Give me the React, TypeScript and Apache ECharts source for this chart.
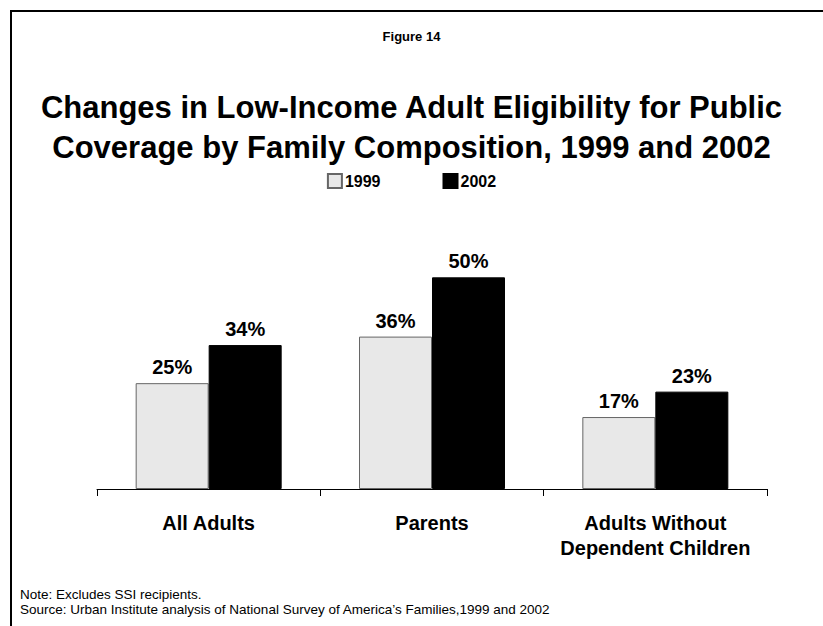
import React, { useEffect, useRef } from "react";
import * as echarts from "echarts";

const categories = ["All Adults", "Parents", "Adults Without\nDependent Children"];
const seriesNames = ["1999", "2002"];
const values1999 = [25, 36, 17];
const values2002 = [34, 50, 23];
const figureLabel = "Figure 14";
const titleText = "Changes in Low-Income Adult Eligibility for Public\nCoverage by Family Composition, 1999 and 2002";
const noteText = "Note: Excludes SSI recipients.";
const sourceText = "Source: Urban Institute analysis of National Survey of America\u2019s Families,1999 and 2002";

const FONT = "Arial, 'Liberation Sans', Helvetica, sans-serif";

export default function App() {
  const ref = useRef<HTMLDivElement>(null);
  useEffect(() => {
    document.body.style.margin = "0";
    const chart = echarts.init(ref.current!, null, { renderer: "svg" });
    const labelStyle = {
      show: true,
      position: "top" as const,
      distance: 6,
      formatter: "{c}%",
      fontFamily: FONT,
      fontWeight: "bold" as const,
      fontSize: 20,
      color: "#000",
    };
    chart.setOption({
      animation: false,
      backgroundColor: "#fff",
      textStyle: { fontFamily: FONT },
      graphic: [
        {
          type: "rect",
          shape: { x: 11, y: 11, width: 900, height: 800 },
          style: { fill: "none", stroke: "#000", lineWidth: 2 },
          silent: true,
        },
      ],
      title: [
        {
          text: figureLabel,
          left: "center",
          top: 25,
          textStyle: { fontFamily: FONT, fontWeight: "bold", fontSize: 13, color: "#000" },
        },
        {
          text: titleText,
          left: "center",
          top: 82,
          textStyle: { fontFamily: FONT, fontWeight: "bold", fontSize: 31, lineHeight: 40, color: "#000" },
        },
        {
          text: noteText + "\n" + sourceText,
          left: 15,
          top: 582,
          textStyle: { fontFamily: FONT, fontWeight: "normal", fontSize: 13.5, lineHeight: 15, color: "#000" },
        },
      ],
      legend: {
        data: seriesNames,
        top: 168,
        left: "center",
        itemWidth: 14,
        itemHeight: 14,
        itemGap: 62,
        icon: "rect",
        textStyle: { fontFamily: FONT, fontWeight: "bold", fontSize: 16, color: "#000", padding: [0, 0, 0, -2] },
      },
      grid: { left: 97, right: 56, top: 235, bottom: 137, containLabel: false },
      xAxis: {
        type: "category",
        data: categories,
        axisLine: { lineStyle: { color: "#000", width: 1 } },
        axisTick: { show: true, length: 7, lineStyle: { color: "#000" } },
        axisLabel: {
          margin: 21,
          fontFamily: FONT,
          fontWeight: "bold",
          fontSize: 20,
          lineHeight: 25,
          color: "#000",
          interval: 0,
        },
      },
      yAxis: {
        type: "value",
        min: 0,
        max: 60,
        show: false,
        splitLine: { show: false },
      },
      series: [
        {
          name: seriesNames[0],
          type: "bar",
          data: values1999,
          barWidth: 73,
          barGap: "0%",
          itemStyle: { color: "#e8e8e8", borderColor: "#666", borderWidth: 1 },
          label: labelStyle,
        },
        {
          name: seriesNames[1],
          type: "bar",
          data: values2002,
          barWidth: 73,
          barGap: "0%",
          itemStyle: { color: "#000", borderColor: "#000", borderWidth: 1 },
          label: labelStyle,
        },
      ],
    });
    return () => chart.dispose();
  }, []);
  return <div ref={ref} style={{ width: 823, height: 626 }} />;
}
